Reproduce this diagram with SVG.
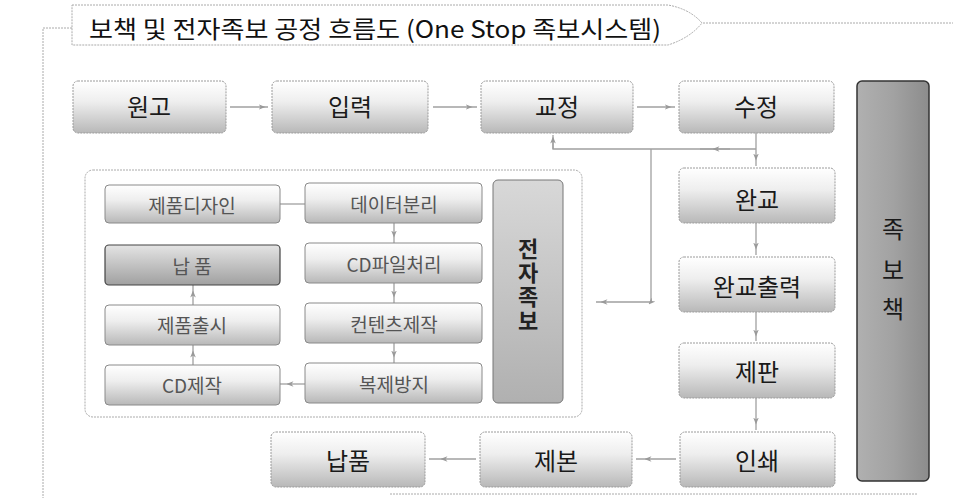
<svg xmlns="http://www.w3.org/2000/svg" width="956" height="498" viewBox="0 0 956 498">
<style>
text{font-family:"Noto Sans CJK KR","Noto Sans",sans-serif;text-anchor:middle;dominant-baseline:central}
.box{fill:url(#g1);stroke:#9a9a9a;stroke-width:1;stroke-dasharray:2 1}
.ibox{fill:url(#g1);stroke:#8a8a8a;stroke-width:1}
.dark{fill:url(#g2);stroke:#444;stroke-width:1.2}
.big{font-size:24px;fill:#1a1a1a}
.small{font-size:19px;fill:#555}
.vt{font-size:22px;font-weight:bold;fill:#222;writing-mode:vertical-rl;letter-spacing:2px}
.frame{fill:none;stroke:#aaa;stroke-width:1;stroke-dasharray:2 1}
.arr{fill:none;stroke:#a0a0a0;stroke-width:1.3;marker-mid:url(#ah)}
.ln{fill:none;stroke:#a0a0a0;stroke-width:1.3}
</style>
<defs>
<linearGradient id="g1" x1="0" y1="0" x2="0" y2="1">
<stop offset="0" stop-color="#ffffff"/><stop offset="0.4" stop-color="#eeeeee"/><stop offset="1" stop-color="#b8b8b8"/>
</linearGradient>
<linearGradient id="g2" x1="0" y1="0" x2="0" y2="1">
<stop offset="0" stop-color="#e4e4e4"/><stop offset="1" stop-color="#a0a0a0"/>
</linearGradient>
<linearGradient id="g3" x1="0" y1="0" x2="0" y2="1">
<stop offset="0" stop-color="#d8d8d8"/><stop offset="1" stop-color="#b0b0b0"/>
</linearGradient>
<linearGradient id="g4" x1="0" y1="0" x2="1" y2="0">
<stop offset="0" stop-color="#b0b0b0"/><stop offset="0.5" stop-color="#a2a2a2"/><stop offset="1" stop-color="#8c8c8c"/>
</linearGradient>
<marker id="ah" viewBox="0 0 10 10" refX="5" refY="5" markerWidth="7" markerHeight="7" markerUnits="userSpaceOnUse" orient="auto">
<path d="M0,1 L10,5 L0,9 L3,5 Z" fill="#999"/>
</marker>
</defs>

<g id="title">
<path class="frame" d="M72,5 L668,5 Q690,9 702,23 Q690,38 668,45 L72,45 Z"/>
<text x="375" y="27" textLength="572" lengthAdjust="spacingAndGlyphs" style="font-size:24px;fill:#111">보책 및 전자족보 공정 흐름도 (One Stop 족보시스템)</text>
</g>
<g id="frame">
<path class="frame" d="M72,28 L43,28 L43,498"/>
<path class="frame" d="M703,23 L953,23"/>
<path class="frame" d="M390,494 L918,494"/>
</g>

<g id="connectors">
<polyline class="arr" points="230,107 262,107 268,107"/>
<polyline class="arr" points="433,107 469,107 477,107"/>
<polyline class="arr" points="637,107 668,107 675,107"/>
<polyline class="arr" points="756,133 756,157 756,166"/>
<polyline class="arr" points="756,223 756,246 756,255"/>
<polyline class="arr" points="756,312 756,333 756,341"/>
<polyline class="arr" points="756,398 756,421 756,430"/>
<polyline class="arr" points="676,459 648,459 636,459"/>
<polyline class="arr" points="476,459 444,459 429,459"/>
<path class="ln" d="M756,149 L553,149 L553,140"/>
<polyline class="arr" points="730,149 716,149 700,149"/>
<polyline class="arr" points="553,149 553,140 553,135"/>
<polyline class="arr" points="651,149 651,302 604,302 596,302"/>
<path class="ln" d="M280,204 L305,204"/>
<polyline class="arr" points="394,223 394,234 394,243"/>
<polyline class="arr" points="394,283 394,294 394,303"/>
<polyline class="arr" points="394,343 394,354 394,363"/>
<polyline class="arr" points="305,384 290,384 280,384"/>
<polyline class="arr" points="193,365 193,354 193,345"/>
<polyline class="arr" points="193,305 193,294 193,285"/>
</g>

<g id="n-wongo"><rect class="box" x="73" y="81" width="153" height="52" rx="5"/><text class="big" x="149" y="105">원고</text></g>
<g id="n-ipryeok"><rect class="box" x="272" y="81" width="156" height="52" rx="5"/><text class="big" x="350" y="105">입력</text></g>
<g id="n-gyojeong"><rect class="box" x="481" y="81" width="152" height="52" rx="5"/><text class="big" x="557" y="105">교정</text></g>
<g id="n-sujeong"><rect class="box" x="679" y="81" width="155" height="52" rx="5"/><text class="big" x="756" y="105">수정</text></g>
<g id="n-wangyo"><rect class="box" x="679" y="168" width="156" height="55" rx="5"/><text class="big" x="757" y="198">완교</text></g>
<g id="n-wangyo-out"><rect class="box" x="679" y="257" width="156" height="55" rx="5"/><text class="big" x="757" y="285">완교출력</text></g>
<g id="n-jepan"><rect class="box" x="679" y="343" width="156" height="55" rx="5"/><text class="big" x="757" y="370">제판</text></g>
<g id="n-inswae"><rect class="box" x="680" y="432" width="155" height="55" rx="5"/><text class="big" x="757" y="459">인쇄</text></g>
<g id="n-jebon"><rect class="box" x="480" y="432" width="152" height="55" rx="5"/><text class="big" x="556" y="459">제본</text></g>
<g id="n-napum"><rect class="box" x="271" y="432" width="154" height="55" rx="5"/><text class="big" x="348" y="459">납품</text></g>
<g id="n-jokbochaek"><rect x="857" y="81" width="72" height="400" rx="5" style="fill:url(#g4);stroke:#333;stroke-width:1.5"/>
<text class="big" x="893" y="227">족</text><text class="big" x="893" y="268">보</text><text class="big" x="893" y="307">책</text></g>

<g id="n-ebook-group"><rect class="frame" x="85" y="170" width="497" height="247" rx="8"/></g>
<g id="n-design"><rect class="ibox" x="105" y="185" width="175" height="38" rx="4"/><text class="small" x="192" y="204">제품디자인</text></g>
<g id="n-napum2"><rect class="dark" x="105" y="245" width="175" height="40" rx="4"/><text class="small" x="192" y="265">납 품</text></g>
<g id="n-release"><rect class="ibox" x="105" y="305" width="175" height="40" rx="4"/><text class="small" x="192" y="324">제품출시</text></g>
<g id="n-cdmake"><rect class="ibox" x="105" y="365" width="175" height="40" rx="4"/><text class="small" x="192" y="384">CD제작</text></g>
<g id="n-datasplit"><rect class="ibox" x="305" y="183" width="177" height="40" rx="4"/><text class="small" x="394" y="203">데이터분리</text></g>
<g id="n-cdfile"><rect class="ibox" x="305" y="243" width="177" height="40" rx="4"/><text class="small" x="394" y="263">CD파일처리</text></g>
<g id="n-contents"><rect class="ibox" x="305" y="303" width="177" height="40" rx="4"/><text class="small" x="394" y="323">컨텐츠제작</text></g>
<g id="n-copyprotect"><rect class="ibox" x="305" y="363" width="177" height="40" rx="4"/><text class="small" x="394" y="383">복제방지</text></g>
<g id="n-ejokbo"><rect x="493" y="180" width="70" height="223" rx="5" style="fill:url(#g3);stroke:#777;stroke-width:1"/>
<text class="vt" x="528" y="286">전자족보</text></g>
</svg>
